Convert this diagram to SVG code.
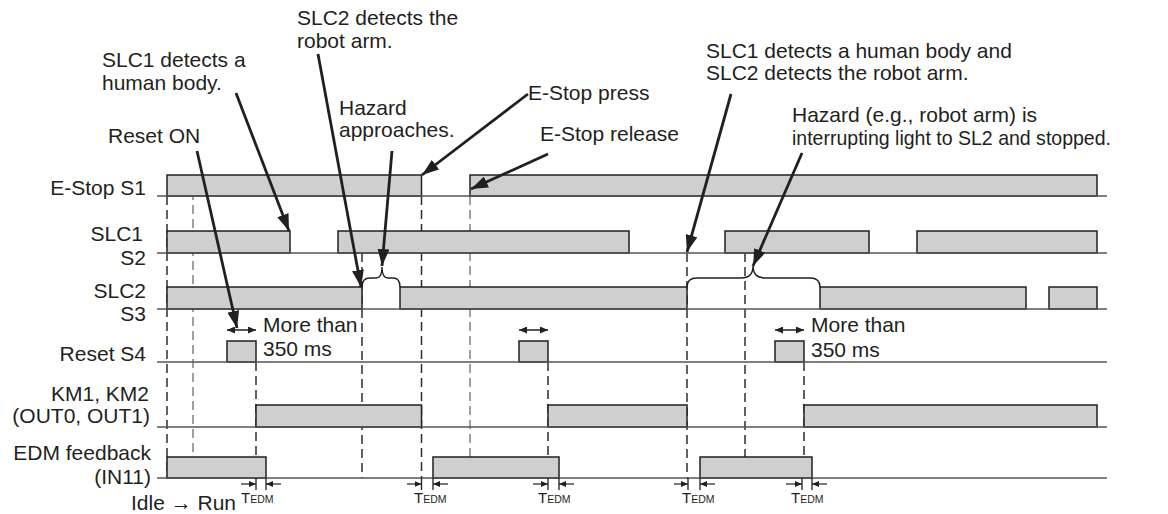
<svg xmlns="http://www.w3.org/2000/svg" width="1168" height="514" viewBox="0 0 1168 514">
<style>
text{font-family:"Liberation Sans",Arial,Helvetica,sans-serif;font-size:21px;fill:#231f20}
.lbl{text-anchor:end}
.sig{fill:#cfcfcf;stroke:#231f20;stroke-width:1.5}
.base{stroke:#555;stroke-width:1.4;fill:none}
.dash{stroke:#2e2e2e;stroke-width:1.5;stroke-dasharray:9 5;fill:none}
.dashg{stroke:#808080;stroke-width:1.5;stroke-dasharray:9 5;fill:none}
.ann{stroke:#231f20;stroke-width:2.8;fill:none;marker-end:url(#ah)}
.dbl{stroke:#231f20;stroke-width:1.5;fill:none;marker-start:url(#sa);marker-end:url(#sa)}
.tick{stroke:#231f20;stroke-width:1.3;fill:none}
.tarr{stroke:#231f20;stroke-width:1.2;fill:none;marker-end:url(#ta)}
.brace{stroke:#231f20;stroke-width:1.4;fill:none}
.ted{font-size:15px}
.ted tspan{font-size:10.5px}
</style>
<defs>
<marker id="ah" markerUnits="userSpaceOnUse" markerWidth="17" markerHeight="12" refX="17" refY="6" orient="auto"><path d="M0,0 L17,6 L0,12 z" fill="#231f20"/></marker>
<marker id="sa" markerUnits="userSpaceOnUse" markerWidth="8" markerHeight="7" refX="8" refY="3.5" orient="auto-start-reverse"><path d="M0,0 L8,3.5 L0,7 z" fill="#231f20"/></marker>
<marker id="ta" markerUnits="userSpaceOnUse" markerWidth="7" markerHeight="6" refX="7" refY="3" orient="auto"><path d="M0,0 L7,3 L0,6 z" fill="#231f20"/></marker>
</defs>
<rect width="1168" height="514" fill="#fff"/>

<g id="guides">
<line class="dash" x1="167" y1="196" x2="167" y2="478"/>
<line class="dashg" x1="193" y1="177" x2="193" y2="478"/>
<line class="dash" x1="256" y1="362" x2="256" y2="478"/>
<line class="dash" x1="362" y1="253" x2="362" y2="478"/>
<line class="dash" x1="421.5" y1="196" x2="421.5" y2="478"/>
<line class="dashg" x1="470" y1="196" x2="470" y2="478"/>
<line class="dash" x1="548" y1="362" x2="548" y2="478"/>
<line class="dash" x1="687" y1="253" x2="687" y2="478"/>
<line class="dash" x1="745" y1="253" x2="745" y2="478"/>
<line class="dash" x1="804" y1="362" x2="804" y2="478"/>
</g>

<g id="row-estop">
<rect class="sig" x="167" y="175" width="254.5" height="21"/>
<rect class="sig" x="470" y="175" width="627" height="21"/>
<line class="base" x1="157" y1="196" x2="1107" y2="196"/>
<text class="lbl" x="146" y="195">E-Stop S1</text>
</g>

<g id="row-slc1">
<rect class="sig" x="167" y="231" width="123" height="22"/>
<rect class="sig" x="338" y="231" width="291" height="22"/>
<rect class="sig" x="725" y="231" width="144" height="22"/>
<rect class="sig" x="917" y="231" width="180" height="22"/>
<line class="base" x1="157" y1="253" x2="1107" y2="253"/>
<text class="lbl" x="143" y="241">SLC1</text>
<text class="lbl" x="146" y="265">S2</text>
</g>

<g id="row-slc2">
<rect class="sig" x="167" y="287" width="195" height="22"/>
<rect class="sig" x="400" y="287" width="287" height="22"/>
<rect class="sig" x="820" y="287" width="206" height="22"/>
<rect class="sig" x="1049" y="287" width="48" height="22"/>
<line class="base" x1="157" y1="309" x2="1107" y2="309"/>
<path class="brace" d="M362,287 Q362,278 370,278 L376,278 Q382,278 382,267 Q382,278 388,278 L393,278 Q400,278 400,287"/>
<path class="brace" d="M687,287 Q687,278 697,278 L741,278 Q753,278 753,266 Q753,278 765,278 L810,278 Q820,278 820,287"/>
<text class="lbl" x="146" y="297.5">SLC2</text>
<text class="lbl" x="146" y="321">S3</text>
</g>

<g id="row-reset">
<rect class="sig" x="227" y="341" width="29" height="21"/>
<rect class="sig" x="519" y="341" width="29" height="21"/>
<rect class="sig" x="775" y="341" width="29" height="21"/>
<line class="base" x1="157" y1="362" x2="1107" y2="362"/>
<line class="dbl" x1="227" y1="330" x2="256" y2="330"/>
<line class="dbl" x1="519" y1="330" x2="548" y2="330"/>
<line class="dbl" x1="775" y1="330" x2="804" y2="330"/>
<text x="263" y="332">More than</text>
<text x="263" y="356">350 ms</text>
<text x="811" y="332">More than</text>
<text x="811" y="357">350 ms</text>
<text class="lbl" x="146" y="360.5">Reset S4</text>
</g>

<g id="row-km">
<rect class="sig" x="256" y="405" width="165.5" height="22"/>
<rect class="sig" x="548" y="405" width="139" height="22"/>
<rect class="sig" x="804" y="405" width="293" height="22"/>
<line class="base" x1="157" y1="427" x2="1107" y2="427"/>
<text class="lbl" x="149" y="401">KM1, KM2</text>
<text class="lbl" x="150" y="423">(OUT0, OUT1)</text>
</g>

<g id="row-edm">
<rect class="sig" x="167" y="457" width="99" height="21"/>
<rect class="sig" x="433" y="457" width="126" height="21"/>
<rect class="sig" x="700" y="457" width="112" height="21"/>
<line class="base" x1="157" y1="478" x2="1107" y2="478"/>
<text class="lbl" x="151" y="460">EDM feedback</text>
<text class="lbl" x="151" y="484">(IN11)</text>
<text x="131" y="510">Idle → Run</text>
</g>

<g id="tedm">
<path class="tick" d="M256,478 V490 M266,478 V490"/>
<line class="tarr" x1="241" y1="484" x2="256" y2="484"/>
<line class="tarr" x1="281" y1="484" x2="266" y2="484"/>
<text class="ted" x="241" y="503">T<tspan>EDM</tspan></text>

<path class="tick" d="M421.5,478 V490 M433,478 V490"/>
<line class="tarr" x1="407" y1="484" x2="421.5" y2="484"/>
<line class="tarr" x1="448" y1="484" x2="433" y2="484"/>
<text class="ted" x="414" y="503">T<tspan>EDM</tspan></text>

<path class="tick" d="M548,478 V490 M559,478 V490"/>
<line class="tarr" x1="533" y1="484" x2="548" y2="484"/>
<line class="tarr" x1="574" y1="484" x2="559" y2="484"/>
<text class="ted" x="538" y="503">T<tspan>EDM</tspan></text>

<path class="tick" d="M688,478 V490 M700,478 V490"/>
<line class="tarr" x1="674" y1="484" x2="688" y2="484"/>
<line class="tarr" x1="715" y1="484" x2="700" y2="484"/>
<text class="ted" x="682" y="503">T<tspan>EDM</tspan></text>

<path class="tick" d="M802,478 V490 M812,478 V490"/>
<line class="tarr" x1="786" y1="484" x2="802" y2="484"/>
<line class="tarr" x1="827" y1="484" x2="812" y2="484"/>
<text class="ted" x="791" y="503">T<tspan>EDM</tspan></text>
</g>

<g id="annotations">
<text x="297" y="25">SLC2 detects the</text>
<text x="297" y="48">robot arm.</text>
<text x="102" y="67">SLC1 detects a</text>
<text x="102" y="90">human body.</text>
<text x="339" y="115">Hazard</text>
<text x="339" y="137">approaches.</text>
<text x="108" y="143">Reset ON</text>
<text x="528" y="100">E-Stop press</text>
<text x="540" y="141">E-Stop release</text>
<text x="706" y="58">SLC1 detects a human body and</text>
<text x="706" y="80">SLC2 detects the robot arm.</text>
<text x="792" y="122">Hazard (e.g., robot arm) is</text>
<text x="792" y="145" textLength="319" lengthAdjust="spacingAndGlyphs">interrupting light to SL2 and stopped.</text>
</g>

<g id="connectors">
<line class="ann" x1="197" y1="151" x2="237" y2="328"/>
<line class="ann" x1="236" y1="93" x2="289" y2="231"/>
<line class="ann" x1="318" y1="54" x2="361" y2="287"/>
<line class="ann" x1="392" y1="151" x2="382" y2="266"/>
<line class="ann" x1="528" y1="94" x2="422" y2="175"/>
<line class="ann" x1="548" y1="154" x2="471" y2="189"/>
<line class="ann" x1="731" y1="94" x2="687" y2="252"/>
<line class="ann" x1="802" y1="153" x2="753" y2="266"/>
</g>
</svg>
